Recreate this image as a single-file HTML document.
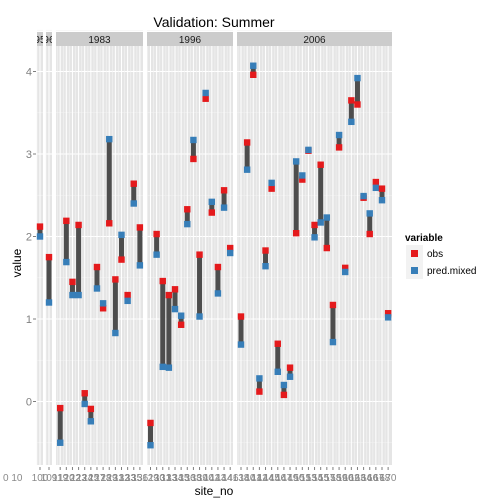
<!DOCTYPE html>
<html><head><meta charset="utf-8"><style>
body{margin:0;background:#fff;font-family:"Liberation Sans",Arial,sans-serif}
svg{display:block}
</style></head><body>
<svg id="chart" width="504" height="504" xmlns="http://www.w3.org/2000/svg">
<text x="214" y="27" font-size="14" text-anchor="middle" fill="#000">Validation: Summer</text>
<text transform="translate(21,263) rotate(-90)" font-size="12" text-anchor="middle" fill="#000">value</text>
<text x="214" y="495" font-size="12" text-anchor="middle" fill="#000">site_no</text>
<g>
<text x="405" y="241" font-size="10" font-weight="bold" fill="#000">variable</text>
<rect x="406" y="245" width="17" height="17" fill="#f2f2f2"/>
<rect x="411" y="250" width="7" height="7" fill="#e41a1c"/>
<text x="427" y="257" font-size="10" fill="#000">obs</text>
<rect x="406" y="262" width="17" height="17" fill="#f2f2f2"/>
<rect x="411" y="267" width="7" height="7" fill="#377eb8"/>
<text x="427" y="274" font-size="10" fill="#000">pred.mixed</text>
</g>
</svg>
<script>
const panelNames=["1955","1965","1983","1996","2006"];
const obsA=[2.12];const predA=[2.0];
const obsB=[1.75];const predB=[1.2];
const obs1983=[-0.08,2.19,1.45,2.14,0.10,-0.09,1.63,1.13,2.16,1.48,1.72,1.29,2.64,2.11];
const pred1983=[-0.5,1.69,1.29,1.29,-0.03,-0.24,1.37,1.19,3.18,0.83,2.02,1.22,2.40,1.65];
const obs1996=[-0.26,2.03,1.46,1.29,1.36,0.93,2.33,2.94,1.78,3.67,2.29,1.63,2.56,1.86];
const pred1996=[-0.53,1.78,0.42,0.41,1.12,1.04,2.15,3.17,1.03,3.74,2.42,1.31,2.35,1.80];
const obs2006=[1.03,3.14,3.96,0.12,1.83,2.58,0.70,0.08,0.41,2.04,2.69,3.04,2.14,2.87,1.86,1.17,3.08,1.62,3.65,3.60,2.47,2.03,2.66,2.58,1.07];
const pred2006=[0.69,2.81,4.07,0.28,1.64,2.65,0.36,0.20,0.30,2.91,2.74,3.05,1.99,2.17,2.23,0.72,3.23,1.57,3.39,3.92,2.49,2.28,2.59,2.44,1.02];
const yTicks=[0,1,2,3,4];
const svg=document.getElementById('chart');
const NS='http://www.w3.org/2000/svg';
function el(t,a,p){const e=document.createElementNS(NS,t);for(const k in a)e.setAttribute(k,a[k]);(p||svg).appendChild(e);return e;}
const pTop=46,pBot=465;
function y(v){return 401.5-82.5*v;}
const panels=[
 {x0:37,x1:43,first:40,obs:obsA,pred:predA},
 {x0:46,x1:52,first:49,obs:obsB,pred:predB},
 {x0:56,x1:143,first:60.2,obs:obs1983,pred:pred1983},
 {x0:147,x1:233,first:150.5,obs:obs1996,pred:pred1996},
 {x0:237,x1:392,first:241,obs:obs2006,pred:pred2006}];
const step=6.13;
const gAxis=el('g',{});


yTicks.forEach(t=>{
 const tx=el('text',{x:32,y:y(t)+4,'font-size':11,'text-anchor':'end',fill:'#7f7f7f'},gAxis);tx.textContent=t;
 
 
 el('line',{x1:33,x2:36,y1:y(t),y2:y(t),stroke:'#7f7f7f'},gAxis);
});
panels.forEach((p,pi)=>{
 const g=el('g',{});
 
 
 el('rect',{x:p.x0,y:pTop,width:p.x1-p.x0,height:pBot-pTop,fill:'#e5e5e5'},g);
 const st=el('rect',{x:p.x0,y:32,width:p.x1-p.x0,height:14,fill:'#cccccc'},g);
 
 
 const clipId='c'+pi;
 const cp=el('clipPath',{id:clipId},g);el('rect',{x:p.x0,y:32,width:p.x1-p.x0,height:14},cp);
 const stt=el('text',{x:(p.x0+p.x1)/2,y:43,'font-size':10,'text-anchor':'middle',fill:'#1a1a1a','clip-path':'url(#'+clipId+')'},g);stt.textContent=panelNames[pi];
 
 
 yTicks.forEach(t=>{el('line',{x1:p.x0,x2:p.x1,y1:y(t),y2:y(t),stroke:'#fff','stroke-width':1.1},g);
  el('line',{x1:p.x0,x2:p.x1,y1:y(t+0.5),y2:y(t+0.5),stroke:'#f2f2f2','stroke-width':0.6},g);});
 el('line',{x1:p.x0,x2:p.x1,y1:y(-0.5),y2:y(-0.5),stroke:'#f2f2f2','stroke-width':0.6},g);
 p.obs.forEach((v,i)=>{const cx=p.first+i*step;
  el('line',{x1:cx,x2:cx,y1:pTop,y2:pBot,stroke:'#fff','stroke-width':1},g);
  el('line',{x1:cx-3,x2:cx-3,y1:pTop,y2:pBot,stroke:'#f4f4f4','stroke-width':0.6},g);
  el('line',{x1:cx,x2:cx,y1:pBot+2,y2:pBot+5,stroke:'#7f7f7f'},g);
 });
 p.obs.forEach((v,i)=>{const cx=p.first+i*step;const pv=p.pred[i];
  const b=el('rect',{x:cx-2.5,y:Math.min(y(v),y(pv)),width:5,height:Math.abs(y(v)-y(pv)),fill:'#4d4d4d'},g);
  
  
  const r=el('rect',{x:cx-3.2,y:y(v)-3.2,width:6.4,height:6.4,fill:'#e41a1c'},g);
  
  
  const bl=el('rect',{x:cx-3.2,y:y(pv)-3.2,width:6.4,height:6.4,fill:'#377eb8'},g);
  
  
  const tl=el('text',{x:cx,y:481,'font-size':10,'text-anchor':'middle',fill:'#8a8a8a'},g);
  tl.textContent=String(1000+pi*97+i*13).slice(0,3);
  
  
 });
});
const z=el('text',{x:3,y:481,'font-size':10,fill:'#8a8a8a'});z.textContent='0 10';


</script>
</body></html>
